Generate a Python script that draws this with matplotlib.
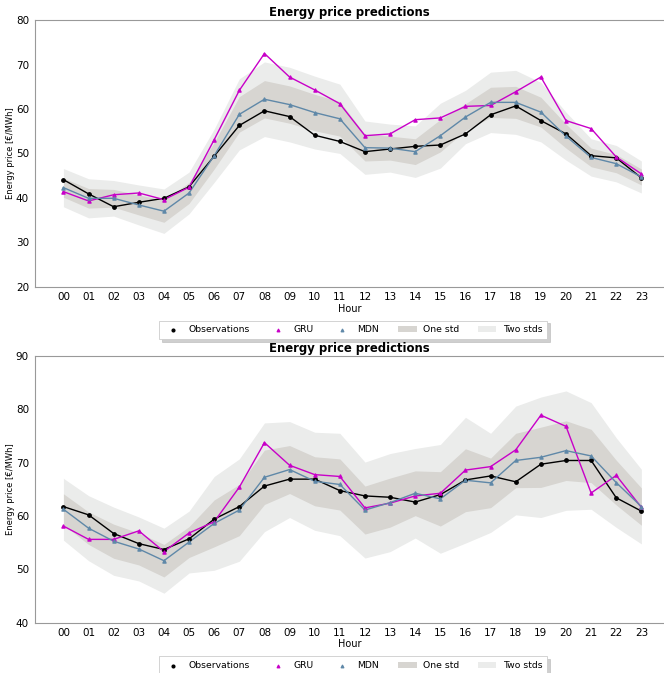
import numpy as np
import matplotlib
matplotlib.use('Agg')
import matplotlib.pyplot as plt

hours = np.arange(24)
hour_labels = ['%02d' % h for h in hours]

# day 1
obs_1 = np.array([44.1, 40.9, 38.0, 39.0, 39.9, 42.5, 49.4, 56.3, 59.6, 58.3, 54.1, 52.7,
                  50.4, 51.0, 51.6, 51.9, 54.4, 58.7, 60.7, 57.4, 54.4, 49.5, 49.0, 44.5])
gru_1 = np.array([41.4, 39.3, 40.7, 41.1, 39.6, 42.4, 53.1, 64.2, 72.5, 67.2, 64.3, 61.2,
                  54.0, 54.4, 57.6, 58.0, 60.6, 60.8, 63.9, 67.2, 57.4, 55.6, 49.2, 45.4])
mdn_1 = np.array([42.3, 39.9, 39.9, 38.4, 37.0, 41.1, 49.5, 58.8, 62.2, 61.0, 59.2, 57.8,
                  51.3, 51.2, 50.4, 54.0, 58.2, 61.5, 61.5, 59.3, 53.9, 49.1, 47.7, 44.7])
std_1 = np.array([2.15, 2.2, 2.0, 2.25, 2.5, 2.35, 3.0, 4.0, 4.2, 4.2, 4.1, 3.9,
                  3.0, 2.7, 2.9, 3.65, 3.0, 3.4, 3.6, 3.35, 2.7, 2.1, 2.05, 1.8])

# day 2
obs_2 = np.array([61.75, 60.2, 56.7, 54.8, 53.7, 55.7, 59.4, 61.75, 65.6, 66.9, 66.9, 64.75,
                  63.75, 63.5, 62.6, 64.0, 66.75, 67.5, 66.4, 69.7, 70.4, 70.4, 63.4, 60.9])
gru_2 = np.array([58.1, 55.6, 55.6, 57.2, 53.3, 56.8, 58.9, 65.4, 73.75, 69.5, 67.75, 67.4,
                  61.5, 62.4, 63.75, 64.25, 68.6, 69.25, 72.4, 78.9, 76.8, 64.3, 67.6, 61.6])
mdn_2 = np.array([61.25, 57.7, 55.25, 53.8, 51.6, 55.1, 58.6, 61.1, 67.25, 68.7, 66.5, 65.9,
                  61.1, 62.5, 64.25, 63.2, 66.7, 66.2, 70.4, 71.0, 72.25, 71.25, 66.25, 61.75])
std_2 = np.array([2.9, 3.05, 3.2, 3.0, 3.05, 2.9, 4.4, 4.8, 5.1, 4.5, 4.6, 4.8,
                  4.5, 4.6, 4.2, 5.1, 5.9, 4.65, 5.1, 5.65, 5.6, 5.0, 4.2, 3.5])

days = [(obs_1, gru_1, mdn_1, std_1, (20, 80)),
        (obs_2, gru_2, mdn_2, std_2, (40, 90))]

c_one = '#d7d5d1'
c_two = '#ebeceb'
c_mdn = '#5f88a8'
c_gru = '#c800c8'

fig = plt.figure(figsize=(6.64, 6.73), dpi=100)
axes_pos = [[0.052, 0.574, 0.948, 0.396], [0.052, 0.075, 0.948, 0.396]]

for pos, (obs, gru, mdn, std, ylim) in zip(axes_pos, days):
    ax = fig.add_axes(pos)
    ax.fill_between(hours, mdn - 2 * std, mdn + 2 * std, color=c_two, lw=0, label='Two stds')
    ax.fill_between(hours, mdn - std, mdn + std, color=c_one, lw=0, label='One std')
    ax.plot(hours, obs, color='k', lw=1.0)
    ax.plot(hours, gru, color=c_gru, lw=1.0)
    ax.plot(hours, mdn, color=c_mdn, lw=1.0)
    ax.scatter(hours, obs, color='k', s=6, marker='o', zorder=3, label='Observations')
    ax.scatter(hours, gru, color=c_gru, s=5, marker='^', zorder=3, label='GRU')
    ax.scatter(hours, mdn, color=c_mdn, s=5, marker='^', zorder=3, label='MDN')

    ax.set_xlim(-1.15, 23.9)
    ax.set_ylim(*ylim)
    ax.set_xticks(hours)
    ax.set_xticklabels(hour_labels)
    ax.tick_params(length=0, labelsize=7.5, pad=4)
    for s in ['left', 'bottom', 'top']:
        ax.spines[s].set_color('#999999')
        ax.spines[s].set_linewidth(0.8)
    ax.spines['right'].set_visible(False)
    ax.set_title('Energy price predictions', fontsize=8.4, fontweight='bold', pad=3)
    ax.set_xlabel('Hour', fontsize=7, labelpad=1)
    ax.set_ylabel('Energy price [€/MWh]', fontsize=6, labelpad=0.5)

    h, l = ax.get_legend_handles_labels()
    order = [2, 3, 4, 1, 0]
    leg = ax.legend([h[i] for i in order], [l[i] for i in order], ncol=5,
                    loc='upper center', bbox_to_anchor=(0.506, -0.11), fontsize=6.7,
                    shadow={'color': '#b0b0b0', 'alpha': 0.6}, fancybox=False, frameon=True,
                    markerscale=0.8, handlelength=2.0, handletextpad=0.7,
                    columnspacing=2.0, borderpad=0.5)
    leg.get_frame().set_edgecolor('#cccccc')
    leg.get_frame().set_linewidth(0.6)

fig.savefig('out.png', dpi=100)
